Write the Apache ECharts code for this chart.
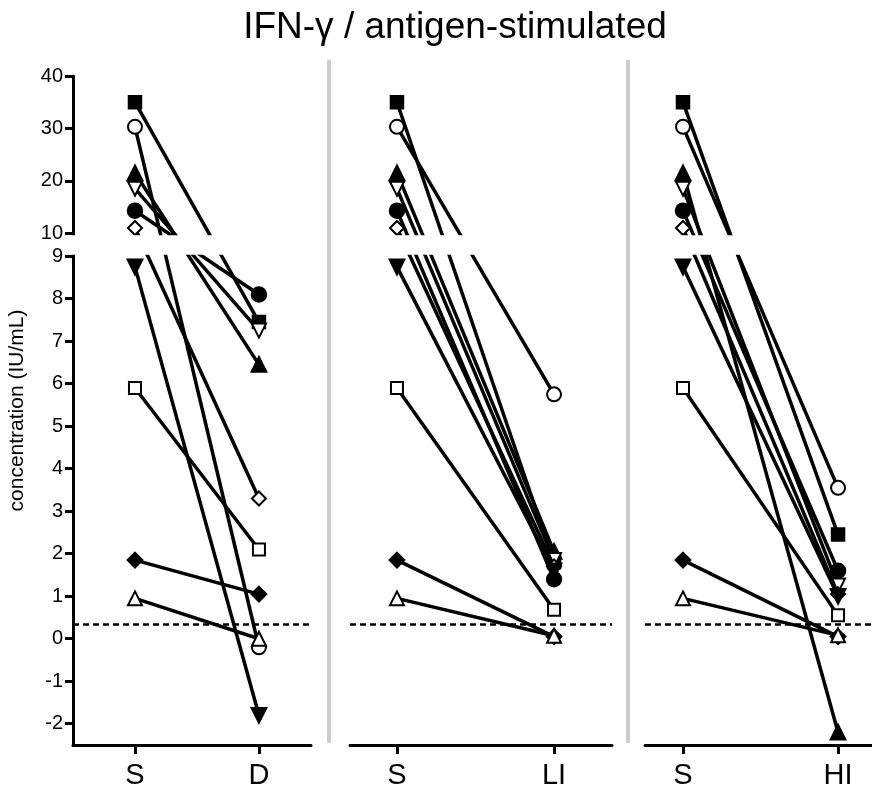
<!DOCTYPE html>
<html>
<head>
<meta charset="utf-8">
<script src="https://cdn.jsdelivr.net/npm/echarts@6.0.0/dist/echarts.min.js"></script>
<style>
  html, body { margin: 0; padding: 0; background: #fff; }
  #main { width: 872px; height: 793px; }
</style>
</head>
<body>
<div id="main"></div>
<script>
// one entry per subject, same order in every array
var markers = ['rect', 'emptyCircle', 'triangle', 'emptyTriangle', 'circle', 'emptyDiamond', 'triangle', 'emptyRect', 'diamond', 'emptyTriangle'];
var flipped = [false, false, false, true, false, false, true, false, false, false];
var valS  = [35, 30.3, 21.5, 18.5, 14.3, 11, 8.75, 5.9, 1.85, 0.95];
var valD  = [7.45, -0.2, 6.45, 7.25, 8.1, 3.3, -1.8, 2.1, 1.05, 0.0];
var valLI = [1.8, 5.75, 2.05, 1.85, 1.4, 1.7, 1.6, 0.68, 0.05, 0.07];
var valHI = [2.45, 3.55, -2.2, 1.25, 1.6, 1.05, 1.0, 0.55, 0.05, 0.08];
var panelLabels = [['S', 'D'], ['S', 'LI'], ['S', 'HI']];
var afterVals = [valD, valLI, valHI];
var cutoff = 0.35;
var yTicks = [-2, -1, 0, 1, 2, 3, 4, 5, 6, 7, 8, 9, 10, 20, 30, 40];

// broken y axis: 10..40 is squeezed above 9, with a gap in between
var GAP = 0.542, K = 0.1233;
function brk(v) { return v >= 10 ? 9 + GAP + (v - 10) * K : v; }
function unbrk(t) { return t > 9.2 ? Math.round(10 + (t - 9 - GAP) / K) : Math.round(t); }

var FONT = 'Liberation Sans, Arial, Helvetica, sans-serif';

var grids = [
  { left: 73, width: 238, top: 76, bottom: 48 },
  { left: 350, width: 262, top: 76, bottom: 48 },
  { left: 645, width: 227, top: 76, bottom: 48 }
];
var xRanges = [[-0.5, 1.42], [-0.299, 1.369], [-0.245, 1.219]];

var xAxes = [], yAxes = [], series = [];
for (var p = 0; p < 3; p++) {
  (function (p) {
    xAxes.push({
      type: 'value', gridIndex: p, min: xRanges[p][0], max: xRanges[p][1],
      splitLine: { show: false },
      axisLine: { onZero: false, lineStyle: { color: '#000', width: 3 } },
      axisTick: { customValues: [0, 1], length: 9, lineStyle: { color: '#000', width: 3 } },
      axisLabel: {
        customValues: [0, 1], margin: 16, color: '#000', fontSize: 29, fontFamily: FONT,
        formatter: function (v) { return panelLabels[p][Math.round(v)]; }
      }
    });
    yAxes.push({
      type: 'value', gridIndex: p, min: -2.5, max: brk(40),
      show: p === 0,
      name: p === 0 ? 'concentration (IU/mL)' : '',
      nameLocation: 'middle', nameGap: 45,
      nameTextStyle: { color: '#000', fontSize: 21, fontFamily: FONT },
      splitLine: { show: false },
      axisLine: { show: p === 0, onZero: false, lineStyle: { color: '#000', width: 3 } },
      axisTick: { show: p === 0, customValues: yTicks.map(brk), length: 8, lineStyle: { color: '#000', width: 3 } },
      axisLabel: {
        show: p === 0, customValues: yTicks.map(brk), margin: 10, color: '#000', fontSize: 20, fontFamily: FONT,
        formatter: function (v) { return String(unbrk(v)); }
      }
    });
    for (var i = 0; i < valS.length; i++) {
      var s = {
        type: 'line', xAxisIndex: p, yAxisIndex: p,
        data: [[0, brk(valS[i])], [1, brk(afterVals[p][i])]],
        symbol: markers[i],
        symbolRotate: flipped[i] ? 180 : 0,
        symbolSize: markers[i].indexOf('ect') >= 0 ? 12 : 14,
        lineStyle: { color: '#000', width: 3.5 },
        itemStyle: { color: '#000', borderColor: '#000', borderWidth: 2.5 },
        emphasis: { disabled: true },
        silent: true,
        z: 2 + i
      };
      if (i === 0) {
        s.markLine = {
          silent: true, symbol: 'none', label: { show: false },
          lineStyle: { color: '#000', width: 2.5, type: [6, 4] },
          data: [{ yAxis: cutoff }]
        };
      }
      series.push(s);
    }
  })(p);
}

var chart = echarts.init(document.getElementById('main'));
chart.setOption({
  animation: false,
  backgroundColor: '#fff',
  title: {
    text: 'IFN-γ / antigen-stimulated',
    left: 450, top: 4, textAlign: 'center',
    textStyle: { color: '#000', fontSize: 37, fontWeight: 'normal', fontFamily: FONT }
  },
  grid: grids,
  xAxis: xAxes,
  yAxis: yAxes,
  series: series
});

// white band that hides everything between 9 and 10 (the axis break)
var yLow = chart.convertToPixel({ yAxisIndex: 0 }, 9);
var yHigh = chart.convertToPixel({ yAxisIndex: 0 }, brk(10));
var bandSpans = [[66, 322], [340, 620], [635, 872]];
var graphics = bandSpans.map(function (b) {
  return {
    type: 'rect', z: 100,
    shape: { x: b[0], y: yHigh + 2, width: b[1] - b[0], height: yLow - yHigh - 3.5 },
    style: { fill: '#fff' }
  };
});
[329, 628].forEach(function (x) {
  graphics.push({
    type: 'line', z: 101,
    shape: { x1: x, y1: 60, x2: x, y2: 743 },
    style: { stroke: '#cccccc', lineWidth: 4 }
  });
});
chart.setOption({ graphic: graphics });
</script>
</body>
</html>
